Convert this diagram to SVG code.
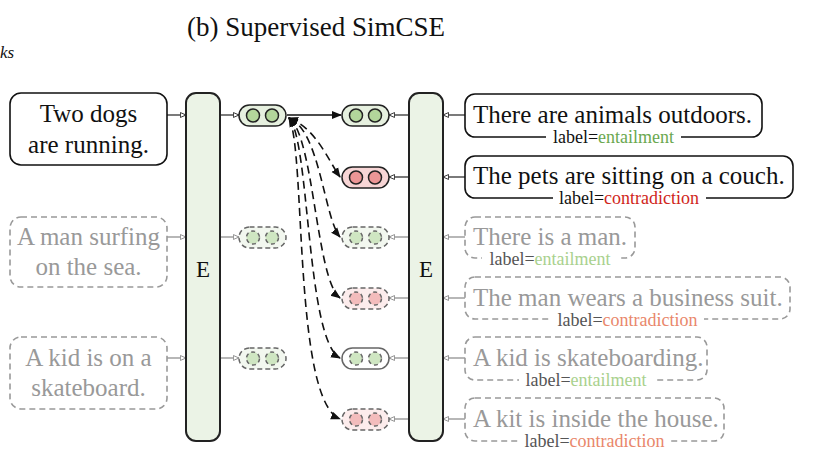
<svg xmlns="http://www.w3.org/2000/svg" width="813" height="460" viewBox="0 0 813 460" font-family="'Liberation Serif', 'DejaVu Serif', serif">
<defs>
<style>
text{font-family:'Liberation Serif','DejaVu Serif',serif}
.t{font-size:25px;fill:#111}
.tf{font-size:25px;fill:#999}
.lab{font-size:18px;fill:#111}
.labf{font-size:18px;fill:#555}
.ent{fill:#6aa84f}.con{fill:#d0261b}
.entf{fill:#a9d18e}.conf{fill:#e9876b}
.box{fill:#fff;stroke:#111;stroke-width:1.6}
.boxf{fill:#fff;stroke:#999;stroke-width:1.6;stroke-dasharray:6 4}
.enc{fill:#ebf3e6;stroke:#222;stroke-width:2}
.pg{fill:#e6f0df;stroke:#222;stroke-width:1.5}
.pr{fill:#f7d5d5;stroke:#222;stroke-width:1.5}
.cg{fill:#b3d69b;stroke:#222;stroke-width:1.5}
.cr{fill:#ec9696;stroke:#222;stroke-width:1.5}
.pgf{fill:#f2f7ef;stroke:#666;stroke-width:1.5;stroke-dasharray:5 3}
.prf{fill:#fcecec;stroke:#666;stroke-width:1.5;stroke-dasharray:5 3}
.pw{fill:#fff;stroke:#666;stroke-width:1.5}
.cgf{fill:#cfe6c2;stroke:#666;stroke-width:1.5;stroke-dasharray:4 3}
.crf{fill:#f3bcbc;stroke:#666;stroke-width:1.5;stroke-dasharray:4 3}
.a{stroke:#222;stroke-width:1.2;fill:none;marker-end:url(#ot)}
.af{stroke:#888;stroke-width:1.2;fill:none;marker-end:url(#otf)}
.d{stroke:#111;stroke-width:1.6;fill:none;stroke-dasharray:8 5;marker-end:url(#ft);marker-start:url(#ft)}
</style>
<marker id="ot" viewBox="0 0 10 10" refX="9" refY="5" markerWidth="7" markerHeight="7" markerUnits="userSpaceOnUse" orient="auto-start-reverse"><path d="M1,1.5 L9,5 L1,8.5 Z" fill="#fff" stroke="#222" stroke-width="1.3"/></marker>
<marker id="otf" viewBox="0 0 10 10" refX="9" refY="5" markerWidth="7" markerHeight="7" markerUnits="userSpaceOnUse" orient="auto-start-reverse"><path d="M1,1.5 L9,5 L1,8.5 Z" fill="#fff" stroke="#888" stroke-width="1.3"/></marker>
<marker id="ft" viewBox="0 0 10 10" refX="9" refY="5" markerWidth="10" markerHeight="10" markerUnits="userSpaceOnUse" orient="auto-start-reverse"><path d="M0,1 L10,5 L0,9 Z" fill="#111"/></marker>
</defs>
<rect width="813" height="460" fill="#fff"/>
<text x="187" y="36" font-family="'Liberation Serif', serif" font-size="27" fill="#111">(b) Supervised SimCSE</text>
<text x="0" y="58" font-family="'Liberation Serif', serif" font-size="17" font-style="italic" fill="#111">ks</text>

<g id="connectors">
<path class="a" d="M167,115 H186"/>
<path class="af" d="M167,237 H186"/>
<path class="af" d="M167,358 H186"/>
<path class="a" d="M220,115 H239"/>
<path class="af" d="M220,237 H239"/>
<path class="af" d="M220,358 H239"/>
<path class="a" d="M465,115 H443"/>
<path class="a" d="M465,177 H443"/>
<path class="af" d="M465,237 H443"/>
<path class="af" d="M465,298 H443"/>
<path class="af" d="M465,358 H443"/>
<path class="af" d="M465,419 H443"/>
<path class="a" d="M409,115 H389"/>
<path class="a" d="M409,177 H389"/>
<path class="af" d="M409,237 H389"/>
<path class="af" d="M409,298 H389"/>
<path class="af" d="M409,358 H389"/>
<path class="af" d="M409,419 H389"/>
<path d="M287,115 H341" stroke="#111" stroke-width="1.4" fill="none" marker-end="url(#ft)"/>
<path class="d" d="M289,118 C316,128 328,160 340,177"/>
<path class="d" d="M289,118 C320,130 324,218 340,237"/>
<path class="d" d="M289,118 C314,135 316,280 340,298"/>
<path class="d" d="M289,118 C310,140 306,340 340,358"/>
<path class="d" d="M289,118 C306,150 293,400 340,419"/>
</g>

<g id="enc-left"><rect class="enc" x="186" y="93" width="34" height="348" rx="10"/><text x="203" y="277" text-anchor="middle" font-family="'Liberation Serif', serif" font-size="23" fill="#111">E</text></g>
<g id="enc-right"><rect class="enc" x="409" y="93" width="34" height="348" rx="10"/><text x="426" y="277" text-anchor="middle" font-family="'Liberation Serif', serif" font-size="23" fill="#111">E</text></g>

<g id="src1"><rect class="box" x="10" y="93" width="157" height="72" rx="11"/><text class="t" x="88.5" y="122" text-anchor="middle">Two dogs</text><text class="t" x="88.5" y="153" text-anchor="middle">are running.</text></g>
<g id="src2"><rect class="boxf" x="10" y="217" width="157" height="70" rx="11"/><text class="tf" x="88.5" y="245" text-anchor="middle">A man surfing</text><text class="tf" x="88.5" y="275" text-anchor="middle">on the sea.</text></g>
<g id="src3"><rect class="boxf" x="10" y="337" width="157" height="72" rx="11"/><text class="tf" x="88.5" y="366" text-anchor="middle">A kid is on a</text><text class="tf" x="88.5" y="396" text-anchor="middle">skateboard.</text></g>

<g id="lp1"><rect class="pg" x="239" y="105" width="47" height="21" rx="10.5"/><circle class="cg" cx="253" cy="115.5" r="6.5"/><circle class="cg" cx="272" cy="115.5" r="6.5"/></g>
<g id="lp2"><rect class="pgf" x="239" y="227" width="47" height="21" rx="10.5"/><circle class="cgf" cx="253" cy="237.5" r="6.5"/><circle class="cgf" cx="272" cy="237.5" r="6.5"/></g>
<g id="lp3"><rect class="pgf" x="239" y="348" width="47" height="21" rx="10.5"/><circle class="cgf" cx="253" cy="358.5" r="6.5"/><circle class="cgf" cx="272" cy="358.5" r="6.5"/></g>

<g id="rp1"><rect class="pg" x="342" y="105" width="47" height="21" rx="10.5"/><circle class="cg" cx="356" cy="115.5" r="6.5"/><circle class="cg" cx="375" cy="115.5" r="6.5"/></g>
<g id="rp2"><rect class="pr" x="342" y="167" width="47" height="21" rx="10.5"/><circle class="cr" cx="356" cy="177.5" r="6.5"/><circle class="cr" cx="375" cy="177.5" r="6.5"/></g>
<g id="rp3"><rect class="pgf" x="342" y="227" width="47" height="21" rx="10.5"/><circle class="cgf" cx="356" cy="237.5" r="6.5"/><circle class="cgf" cx="375" cy="237.5" r="6.5"/></g>
<g id="rp4"><rect class="prf" x="342" y="288" width="47" height="21" rx="10.5"/><circle class="crf" cx="356" cy="298.5" r="6.5"/><circle class="crf" cx="375" cy="298.5" r="6.5"/></g>
<g id="rp5"><rect class="pw" x="342" y="348" width="47" height="21" rx="10.5"/><circle class="cgf" cx="356" cy="358.5" r="6.5"/><circle class="cgf" cx="375" cy="358.5" r="6.5"/></g>
<g id="rp6"><rect class="prf" x="342" y="409" width="47" height="21" rx="10.5"/><circle class="crf" cx="356" cy="419.5" r="6.5"/><circle class="crf" cx="375" cy="419.5" r="6.5"/></g>

<g id="tgt1"><rect class="box" x="465" y="94" width="297" height="43" rx="10"/><rect x="546" y="130" width="135" height="14" fill="#fff"/><text class="t" x="473" y="123">There are animals outdoors.</text><text class="lab" x="613.5" y="143" text-anchor="middle">label=<tspan class="ent">entailment</tspan></text></g>
<g id="tgt2"><rect class="box" x="465" y="156" width="328" height="42" rx="10"/><rect x="553" y="191" width="153" height="14" fill="#fff"/><text class="t" x="473" y="184">The pets are sitting on a couch.</text><text class="lab" x="629" y="204" text-anchor="middle">label=<tspan class="con">contradiction</tspan></text></g>
<g id="tgt3"><rect class="boxf" x="465" y="217" width="170" height="41" rx="10"/><rect x="482" y="251" width="136" height="14" fill="#fff"/><text class="tf" x="473" y="245">There is a man.</text><text class="labf" x="550" y="265" text-anchor="middle">label=<tspan class="entf">entailment</tspan></text></g>
<g id="tgt4"><rect class="boxf" x="465" y="277" width="325" height="42" rx="10"/><rect x="551" y="312" width="153" height="14" fill="#fff"/><text class="tf" x="473" y="306">The man wears a business suit.</text><text class="labf" x="627.5" y="326" text-anchor="middle">label=<tspan class="conf">contradiction</tspan></text></g>
<g id="tgt5"><rect class="boxf" x="465" y="337" width="242" height="43" rx="10"/><rect x="519" y="373" width="135" height="14" fill="#fff"/><text class="tf" x="473" y="366">A kid is skateboarding.</text><text class="labf" x="586" y="386" text-anchor="middle">label=<tspan class="entf">entailment</tspan></text></g>
<g id="tgt6"><rect class="boxf" x="465" y="398" width="259" height="43" rx="10"/><rect x="518" y="434" width="153" height="14" fill="#fff"/><text class="tf" x="473" y="427">A kit is inside the house.</text><text class="labf" x="594.5" y="447" text-anchor="middle">label=<tspan class="conf">contradiction</tspan></text></g>
</svg>
